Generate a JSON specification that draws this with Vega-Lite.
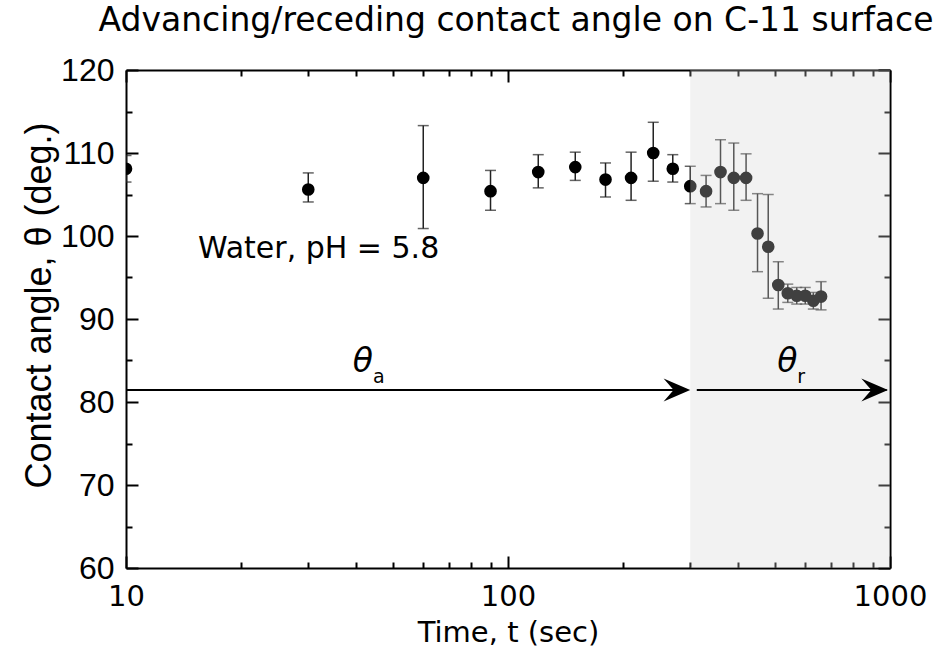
{
  "$schema": "https://vega.github.io/schema/vega-lite/v6.json",
  "width": 764,
  "height": 498,
  "autosize": "none",
  "padding": {"left": 126, "top": 70, "right": 44, "bottom": 82},
  "background": "white",
  "title": {
    "text": "Advancing/receding contact angle on C-11 surface",
    "font": "DejaVu Sans",
    "fontSize": 33,
    "fontWeight": "normal",
    "color": "black",
    "anchor": "middle",
    "frame": "group",
    "dx": 8,
    "baseline": "alphabetic",
    "offset": -10
  },
  "datasets": {
    "main": [
      {"t": 10, "theta": 108.1, "lo": 106.5, "hi": 109.7},
      {"t": 30, "theta": 105.6, "lo": 104.1, "hi": 107.6},
      {"t": 60, "theta": 107.0, "lo": 100.9, "hi": 113.3},
      {"t": 90, "theta": 105.4, "lo": 103.1, "hi": 107.9},
      {"t": 120, "theta": 107.7, "lo": 105.8, "hi": 109.8},
      {"t": 150, "theta": 108.3, "lo": 106.7, "hi": 110.1},
      {"t": 180, "theta": 106.8, "lo": 104.7, "hi": 108.8},
      {"t": 210, "theta": 107.0, "lo": 104.3, "hi": 110.1},
      {"t": 240, "theta": 110.0, "lo": 106.6, "hi": 113.7},
      {"t": 270, "theta": 108.1, "lo": 106.5, "hi": 109.8},
      {"t": 300, "theta": 106.0, "lo": 103.9, "hi": 108.4},
      {"t": 330, "theta": 105.4, "lo": 103.5, "hi": 107.3},
      {"t": 360, "theta": 107.7, "lo": 103.9, "hi": 111.6},
      {"t": 390, "theta": 107.0, "lo": 103.1, "hi": 111.2},
      {"t": 420, "theta": 107.0, "lo": 104.3, "hi": 109.9},
      {"t": 450, "theta": 100.3, "lo": 95.7, "hi": 105.1},
      {"t": 480, "theta": 98.7, "lo": 92.5, "hi": 105.0},
      {"t": 510, "theta": 94.1, "lo": 91.2, "hi": 96.9},
      {"t": 540, "theta": 93.1, "lo": 92.0, "hi": 94.2},
      {"t": 570, "theta": 92.8, "lo": 91.8, "hi": 93.8},
      {"t": 600, "theta": 92.8, "lo": 91.8, "hi": 93.8},
      {"t": 630, "theta": 92.2, "lo": 91.2, "hi": 93.2},
      {"t": 660, "theta": 92.7, "lo": 91.1, "hi": 94.5}
    ],
    "shade": [{"x0": 300, "x1": 1000, "y0": 60, "y1": 120}],
    "arrows": [
      {"a": 10, "b": 295, "y": 81.45},
      {"a": 312, "b": 980, "y": 81.45}
    ],
    "heads": [
      {"t": 300, "y": 81.45},
      {"t": 988, "y": 81.45}
    ],
    "water": [{"t": 15.43, "v": 97.35, "txt": "Water, pH = 5.8"}],
    "thetas": [
      {"t": 41.7, "v": 83.6, "txt": "θ"},
      {"t": 539, "v": 83.6, "txt": "θ"}
    ],
    "subs": [
      {"t": 44.3, "v": 82.3, "txt": "a"},
      {"t": 572, "v": 82.3, "txt": "r"}
    ]
  },
  "resolve": {"axis": {"x": "independent", "y": "independent"}},
  "layer": [
    {
      "data": {"name": "main"},
      "mark": {
        "type": "errorbar",
        "color": "#222222",
        "ticks": {"size": 11, "thickness": 1.5},
        "rule": {"strokeWidth": 1.5},
        "clip": true
      },
      "encoding": {
        "x": {"field": "t", "type": "quantitative", "scale": {"type": "log", "domain": [10, 1000], "nice": false}, "axis": null},
        "y": {"field": "lo", "type": "quantitative", "scale": {"domain": [60, 120], "nice": false, "zero": false}, "axis": null},
        "y2": {"field": "hi"}
      }
    },
    {
      "data": {"name": "main"},
      "mark": {"type": "point", "shape": "circle", "filled": true, "size": 160, "color": "black", "opacity": 1, "clip": true},
      "encoding": {
        "x": {
          "field": "t", "type": "quantitative",
          "scale": {"type": "log", "domain": [10, 1000], "nice": false},
          "axis": {
            "orient": "bottom",
            "values": [10, 20, 30, 40, 50, 60, 70, 80, 90, 100, 200, 300, 400, 500, 600, 700, 800, 900, 1000],
            "labelExpr": "indexof([10,100,1000], datum.value) >= 0 ? format(datum.value, 'd') : ''",
            "labelOverlap": false,
            "labelFlush": false,
            "labelFont": "DejaVu Sans",
            "labelFontSize": 29,
            "labelColor": "black",
            "labelPadding": 26,
            "tickSize": {"condition": {"test": "indexof([10,100,1000], datum.value) >= 0", "value": -12}, "value": -6},
            "title": "Time, t (sec)",
            "titleFont": "DejaVu Sans",
            "titleFontSize": 29,
            "titleFontWeight": "normal",
            "titleColor": "black",
            "titlePadding": 1
          }
        },
        "y": {
          "field": "theta", "type": "quantitative",
          "scale": {"domain": [60, 120], "nice": false, "zero": false},
          "axis": {
            "orient": "left",
            "values": [60, 65, 70, 75, 80, 85, 90, 95, 100, 105, 110, 115, 120],
            "labelExpr": "datum.value % 10 == 0 ? datum.label : ''",
            "labelOverlap": false,
            "labelFlush": false,
            "labelFont": "Liberation Sans",
            "labelFontSize": 32,
            "labelColor": "black",
            "labelPadding": 24,
            "tickSize": {"condition": {"test": "datum.value % 10 == 0", "value": -12}, "value": -6},
            "title": "Contact angle, θ (deg.)",
            "titleFont": "Liberation Sans",
            "titleFontSize": 36,
            "titleFontWeight": "normal",
            "titleColor": "black",
            "titlePadding": 2,
            "titleY": 235
          }
        }
      }
    },
    {
      "data": {"name": "shade"},
      "mark": {"type": "rect", "color": "#d4d4d4", "opacity": 0.3},
      "encoding": {
        "x": {
          "field": "x0", "type": "quantitative",
          "scale": {"type": "log", "domain": [10, 1000], "nice": false},
          "axis": {
            "orient": "top",
            "values": [10, 20, 30, 40, 50, 60, 70, 80, 90, 100, 200, 300, 400, 500, 600, 700, 800, 900, 1000],
            "labels": false,
            "title": null,
            "tickSize": {"condition": {"test": "indexof([10,100,1000], datum.value) >= 0", "value": -12}, "value": -6}
          }
        },
        "x2": {"field": "x1"},
        "y": {
          "field": "y0", "type": "quantitative",
          "scale": {"domain": [60, 120], "nice": false, "zero": false},
          "axis": {
            "orient": "right",
            "values": [60, 65, 70, 75, 80, 85, 90, 95, 100, 105, 110, 115, 120],
            "labels": false,
            "title": null,
            "tickSize": {"condition": {"test": "datum.value % 10 == 0", "value": -12}, "value": -6}
          }
        },
        "y2": {"field": "y1"}
      }
    },
    {
      "data": {"name": "arrows"},
      "mark": {"type": "rule", "color": "black", "strokeWidth": 2},
      "encoding": {
        "x": {"field": "a", "type": "quantitative", "scale": {"type": "log", "domain": [10, 1000], "nice": false}, "axis": null},
        "x2": {"field": "b"},
        "y": {"field": "y", "type": "quantitative", "axis": null}
      }
    },
    {
      "data": {"name": "heads"},
      "mark": {"type": "point", "shape": "M0,0L-2,-0.86L-1.25,0L-2,0.86Z", "filled": true, "size": 711, "color": "black", "opacity": 1, "strokeWidth": 0},
      "encoding": {
        "x": {"field": "t", "type": "quantitative", "scale": {"type": "log", "domain": [10, 1000], "nice": false}, "axis": null},
        "y": {"field": "y", "type": "quantitative", "axis": null}
      }
    },
    {
      "data": {"name": "water"},
      "mark": {"type": "text", "font": "DejaVu Sans", "fontSize": 30, "align": "left", "baseline": "alphabetic", "color": "black"},
      "encoding": {
        "x": {"field": "t", "type": "quantitative", "scale": {"type": "log", "domain": [10, 1000], "nice": false}, "axis": null},
        "y": {"field": "v", "type": "quantitative", "axis": null},
        "text": {"field": "txt"}
      }
    },
    {
      "data": {"name": "thetas"},
      "mark": {"type": "text", "font": "DejaVu Sans", "fontSize": 33, "fontStyle": "italic", "align": "center", "baseline": "alphabetic", "color": "black"},
      "encoding": {
        "x": {"field": "t", "type": "quantitative", "scale": {"type": "log", "domain": [10, 1000], "nice": false}, "axis": null},
        "y": {"field": "v", "type": "quantitative", "axis": null},
        "text": {"field": "txt"}
      }
    },
    {
      "data": {"name": "subs"},
      "mark": {"type": "text", "font": "DejaVu Sans", "fontSize": 19, "align": "left", "baseline": "alphabetic", "color": "black"},
      "encoding": {
        "x": {"field": "t", "type": "quantitative", "scale": {"type": "log", "domain": [10, 1000], "nice": false}, "axis": null},
        "y": {"field": "v", "type": "quantitative", "axis": null},
        "text": {"field": "txt"}
      }
    }
  ],
  "config": {
    "view": {"stroke": null},
    "axis": {
      "domainColor": "black",
      "domainWidth": 2,
      "tickColor": "black",
      "tickWidth": 2,
      "grid": false,
      "zindex": 1
    }
  }
}
